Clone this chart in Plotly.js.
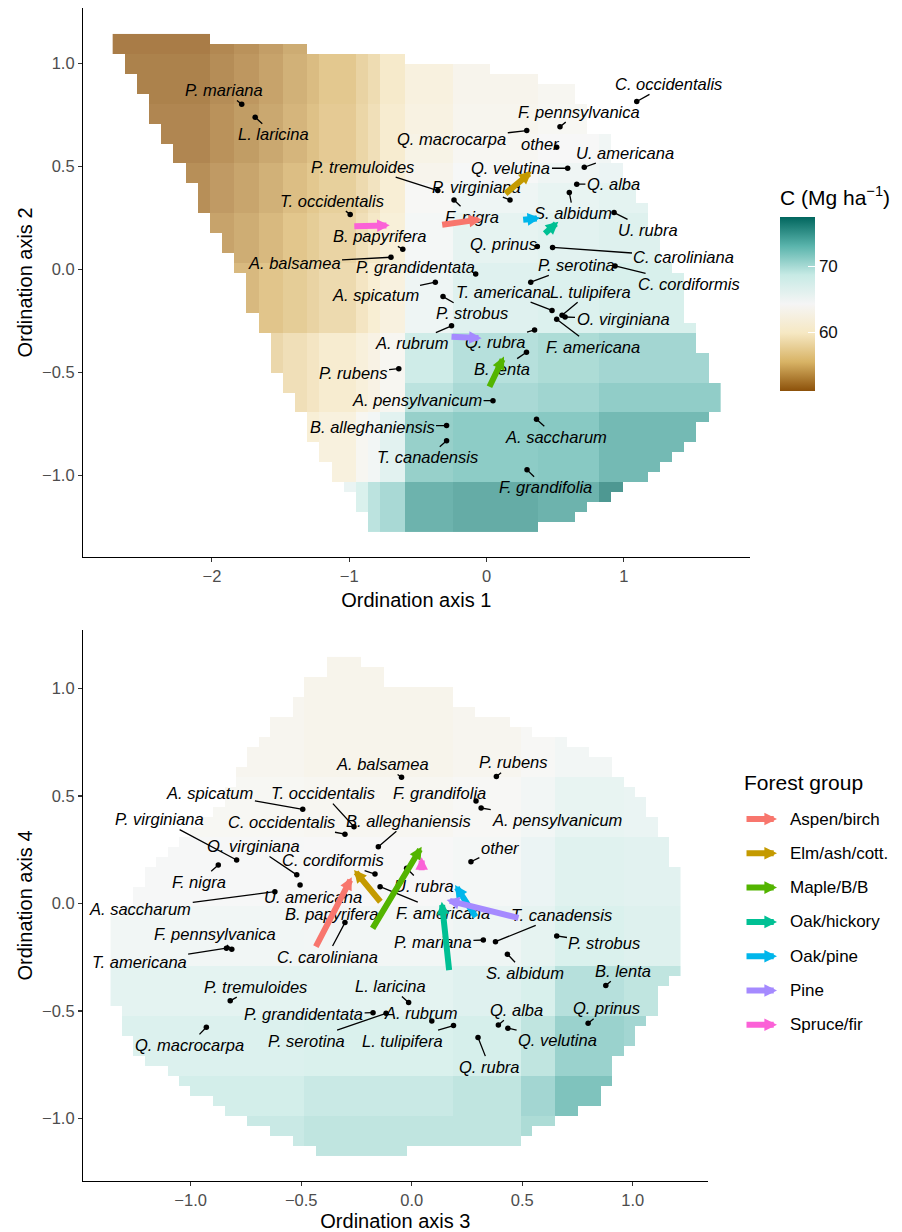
<!DOCTYPE html>
<html>
<head>
<meta charset="utf-8">
<script src="https://cdn.plot.ly/plotly-3.0.1.min.js"></script>
<style>
html,body{margin:0;padding:0;background:#ffffff;}
#chart{width:902px;height:1232px;}
</style>
</head>
<body>
<div id="chart"></div>
<script>
// ---------------- DATA ----------------
const species = ["A. balsamea","A. pensylvanicum","A. rubrum","A. saccharum","A. spicatum",
  "B. alleghaniensis","B. lenta","B. papyrifera","C. caroliniana","C. cordiformis",
  "C. occidentalis","F. americana","F. grandifolia","F. nigra","F. pennsylvanica",
  "L. laricina","L. tulipifera","O. virginiana","other","P. grandidentata",
  "P. mariana","P. rubens","P. serotina","P. strobus","P. tremuloides",
  "P. virginiana","Q. alba","Q. macrocarpa","Q. prinus","Q. rubra",
  "Q. velutina","S. albidum","T. americana","T. canadensis","T. occidentalis",
  "U. americana","U. rubra"];

// Ordination axes 1 & 2 (species scores) and label placements
const ax1 = [-0.696,0.047,-0.255,0.364,-0.373,-0.291,0.291,-0.610,0.481,0.936,
  1.094,0.511,0.295,-0.237,0.535,-1.685,0.550,0.572,0.511,-0.079,
  -1.783,-0.639,0.322,-0.317,-0.355,0.171,0.657,0.293,0.370,0.350,
  0.591,0.603,0.477,-0.291,-0.993,0.712,0.929];
const ax2 = [0.058,-0.638,-0.275,-0.728,-0.063,-0.759,-0.403,0.097,0.106,0.016,
  0.814,-0.243,-0.974,0.336,0.692,0.738,-0.224,-0.232,0.592,-0.023,
  0.801,-0.483,-0.063,-0.133,0.382,0.336,0.413,0.673,0.110,-0.295,
  0.490,0.372,-0.200,-0.833,0.266,0.495,0.275];
const lab12X = [-1.402,-0.506,-0.545,0.506,-0.812,-0.834,0.111,-0.776,1.438,1.473,
  1.322,0.776,0.426,-0.108,0.674,-1.551,0.754,0.994,0.390,-0.521,
  -1.915,-0.972,0.657,-0.108,-0.902,-0.071,0.924,-0.253,0.122,0.062,
  0.178,0.632,0.122,-0.428,-1.125,1.009,1.178];
const lab12Y = [0.032,-0.634,-0.359,-0.813,-0.125,-0.764,-0.485,0.162,0.061,-0.071,
  0.900,-0.376,-1.058,0.255,0.765,0.655,-0.109,-0.241,0.608,0.010,
  0.870,-0.505,0.021,-0.214,0.498,0.401,0.414,0.631,0.123,-0.351,
  0.490,0.272,-0.109,-0.913,0.333,0.566,0.191];

// Ordination axes 3 & 4
const ax3 = [-0.046,0.314,0.091,-0.619,-0.493,-0.151,0.878,-0.311,-0.302,-0.166,
  -0.302,-0.143,0.291,-0.875,-0.814,-0.014,0.189,-0.520,0.268,-0.175,
  0.324,0.383,-0.116,0.656,-0.821,-0.792,0.392,-0.929,0.798,0.300,
  0.435,0.433,-0.838,0.379,-0.261,-0.505,-0.023];
const ax4 = [0.587,0.444,-0.547,0.055,0.438,0.264,-0.382,0.035,-0.089,0.137,
  0.322,0.078,0.477,0.179,-0.213,-0.461,-0.568,0.133,0.194,-0.508,
  -0.170,0.590,-0.511,-0.151,-0.453,0.202,-0.565,-0.576,-0.557,-0.624,
  -0.580,-0.236,-0.208,-0.178,0.357,0.086,0.164];
const lab34X = [-0.130,0.656,0.041,-1.228,-0.913,-0.014,0.956,-0.362,-0.383,-0.355,
  -0.588,0.143,0.124,-0.961,-0.890,-0.097,-0.042,-0.714,0.401,-0.489,
  0.096,0.462,-0.476,0.872,-0.707,-1.139,0.475,-1.006,0.881,0.352,
  0.660,0.513,-1.233,0.678,-0.400,-0.445,0.056];
const lab34Y = [0.649,0.388,-0.511,-0.027,0.515,0.385,-0.313,-0.050,-0.247,0.202,
  0.380,-0.043,0.515,0.101,-0.144,-0.384,-0.638,0.267,0.260,-0.514,
  -0.178,0.657,-0.638,-0.185,-0.387,0.392,-0.495,-0.658,-0.487,-0.759,
  -0.635,-0.322,-0.271,-0.053,0.513,0.032,0.081];

// Forest-group vectors
const groups = ["Aspen/birch","Elm/ash/cott.","Maple/B/B","Oak/hickory","Oak/pine","Pine","Spruce/fir"];
const groupColors = ["#F8766D","#C49A00","#53B400","#00C094","#00B6EB","#A58AFF","#FB61D7"];
const g12StartX = [-0.334,0.127,0.016,0.414,0.256,-0.266,-0.974];
const g12StartY = [0.215,0.361,-0.578,0.167,0.239,-0.327,0.208];
const g12EndX   = [-0.035,0.329,0.127,0.523,0.390,-0.035,-0.705];
const g12EndY   = [0.243,0.474,-0.424,0.231,0.248,-0.335,0.213];
const g34StartX = [-0.437,-0.136,-0.181,0.170,0.294,0.490,0.045];
const g34StartY = [-0.208,0.001,-0.123,-0.317,-0.069,-0.069,0.148];
const g34EndX   = [-0.271,-0.261,0.045,0.136,0.196,0.158,0.045];
const g34EndY   = [0.122,0.156,0.264,0.008,0.086,0.016,0.215];

// Carbon surface (Mg/ha), axes 1-2: piecewise-constant table read from the tiles.
// columns grouped left->right, rows grouped top->bottom
const c12ColGroupWidths = [8,2,2,2,2,1,3,1,1,2,4,7,5,10];
const c12RowBandHeights = [2,5,3,3,2,3,5,7,5,3,7,5];
const c12BandValues = [
  [51.2,51.9,52.5,53.2,54.0,54.7,55.5,56.7,57.7,59.2,61.2,62.7,63.2,64.2],
  [51.5,52.2,52.8,53.5,54.3,55.0,55.8,57.0,58.0,59.5,61.5,63.0,63.5,64.5],
  [51.8,52.5,53.1,53.8,54.6,55.3,56.1,57.3,58.3,59.8,61.8,63.2,63.8,64.8],
  [51.8,52.5,53.1,53.8,54.6,55.3,56.1,57.3,58.3,59.8,62.3,63.7,64.4,65.2],
  [52.3,53.0,53.6,54.3,55.1,55.8,56.6,57.8,58.8,60.3,63.0,64.5,65.3,65.8],
  [52.3,53.0,53.6,54.3,55.1,55.8,56.6,57.8,58.8,60.3,64.0,65.5,66.3,66.8],
  [52.8,53.5,54.1,54.8,55.6,56.3,57.1,58.3,59.3,60.8,64.8,66.5,67.0,67.5],
  [53.5,54.2,54.8,55.5,56.3,57.0,57.8,59.0,60.0,61.5,65.5,67.3,67.8,68.3],
  [55.5,56.2,56.8,57.5,58.3,59.0,59.8,61.0,62.0,63.5,69.0,70.3,70.8,71.3],
  [55.5,56.2,56.8,57.5,58.3,59.0,59.8,61.0,62.0,63.5,70.0,71.0,71.5,72.3],
  [57.0,57.7,58.3,59.0,59.8,60.5,61.3,63.5,65.0,67.0,72.0,72.5,72.8,74.0],
  [61.0,61.7,62.3,63.0,63.8,64.5,66.0,68.0,70.0,71.0,74.5,75.0,74.5,76.5]
];
// first / last occupied tile in each of the 50 rows (top->bottom)
const c12RowFirst = [0,0,1,1,2,2,3,3,3,4, 4,5,5,6,6,7,7,7,8,8, 9,9,10,10,11,11,11,11,12,12,
  13,13,13,13,14,14,15,15,16,16, 16,17,17,18,18,19,20,20,21,21];
const c12RowLast = [7,15,23,30,34,37,37,38,38,38, 40,40,40,41,41,42,42,43,43,43, 44,44,44,45,46,46,46,46,46,47,
  47,47,48,48,48,49,49,49,48,47, 47,46,45,44,43,41,40,38,37,34];
const c12Grid = {x0:-2.6787, dx:0.08862, y0:-1.2508, dy:0.04834};

// Carbon surface, axes 3-4
const c34ColGroupWidths = [17,13,6,3,6,5];
const c34RowBandHeights = [12,6,7,6,5,6,4,4];
const c34BandValues = [
  [63.3,62.8,63.3,64.0,65.0,65.0],
  [63.8,63.5,64.0,65.0,66.2,66.0],
  [64.5,64.3,64.8,65.8,67.2,67.0],
  [65.2,65.0,65.5,66.5,68.0,67.5],
  [66.8,66.8,67.3,68.3,70.3,69.8],
  [67.8,68.0,68.6,69.8,71.8,71.3],
  [68.8,69.3,69.8,71.3,73.3,72.8],
  [69.3,69.8,69.8,70.8,72.8,72.3]
];
const c34RowFirst = [19,19,17,17,16,16,14,14,13,12, 12,11,11,10,10,9,8,7,6,5, 4,3,3,2,2,1,0,0,0,0,
  0,0,0,0,0,1,1,1,2,2, 3,5,6,7,9,10,12,14,16,18];
const c34RowLast = [21,23,23,29,29,31,34,36,39,41, 43,43,44,45,46,46,47,47,48,48, 48,49,49,49,49,49,49,49,49,49,
  49,49,48,47,47,47,46,45,45,44, 43,43,43,42,42,40,38,36,35,25];
const c34Grid = {x0:-1.3367, dx:0.05153, y0:-1.1512, dy:0.04642};

const cRange = [51.2, 77.4];
const cTicks = [60, 70];
const ticks12X = [-2,-1,0,1];
const ticks12XText = ["\u22122","\u22121","0","1"];
const ticksHalf = [-1,-0.5,0,0.5,1];
const ticksHalfText = ["\u22121.0","\u22120.5","0.0","0.5","1.0"];

// ---------------- BUILD ----------------
const FONT = '"Liberation Sans", Arial, Helvetica, sans-serif';
const W = 902, H = 1232;
const px = X => X / W;
const py = Y => 1 - Y / H;

function buildTable(widths, heights, values, first, last) {
  const rows = [];
  let r = 0;
  heights.forEach((h, b) => {
    for (let k = 0; k < h; k++, r++) {
      const row = [];
      widths.forEach((w, g) => { for (let q = 0; q < w; q++) row.push(values[b][g]); });
      rows.push(row.map((v, j) => (j >= first[r] && j <= last[r]) ? v : null));
    }
  });
  return rows.reverse(); // heatmap rows go bottom -> top
}

const BrBG = [[0,'#8C510A'],[1/6,'#D8B365'],[2/6,'#F6E8C3'],[0.5,'#F5F5F5'],
              [4/6,'#C7EAE5'],[5/6,'#5AB4AC'],[1,'#01665E']];

const traces = [
  Object.assign({
    type:'heatmap', z: buildTable(c12ColGroupWidths, c12RowBandHeights, c12BandValues, c12RowFirst, c12RowLast),
    xaxis:'x', yaxis:'y', colorscale: BrBG, zmin: cRange[0], zmax: cRange[1], opacity: 0.75,
    hoverinfo:'skip', showscale: true,
    colorbar: {
      x: px(780), xanchor:'left', xref:'paper', xpad:0,
      y: py(391), yanchor:'bottom', ypad:0,
      len: 205, lenmode:'pixels', thickness: 35, thicknessmode:'pixels',
      outlinewidth: 0, tickmode:'array', tickvals: cTicks,
      ticks:'inside', ticklen: 7, tickcolor:'#ffffff', tickwidth: 1,
      tickfont: {family: FONT, size: 17, color:'#111'},
      title: {text:'C (Mg ha<sup>\u22121</sup>)', side:'top', font:{family: FONT, size: 21, color:'#000'}}
    }
  }, c12Grid),
  Object.assign({
    type:'heatmap', z: buildTable(c34ColGroupWidths, c34RowBandHeights, c34BandValues, c34RowFirst, c34RowLast),
    xaxis:'x2', yaxis:'y2', colorscale: BrBG, zmin: cRange[0], zmax: cRange[1], opacity: 0.75,
    hoverinfo:'skip', showscale: false
  }, c34Grid),
  {type:'scatter', mode:'markers', x: ax1, y: ax2, xaxis:'x', yaxis:'y',
   marker:{color:'#000', size:5.5}, hoverinfo:'skip', showlegend:false},
  {type:'scatter', mode:'markers', x: ax3, y: ax4, xaxis:'x2', yaxis:'y2',
   marker:{color:'#000', size:5.5}, hoverinfo:'skip', showlegend:false}
];

function labelAnns(xs, ys, lx, ly, xr, yr) {
  return species.map((s, i) => ({
    x: xs[i], y: ys[i], ax: lx[i], ay: ly[i], xref: xr, yref: yr, axref: xr, ayref: yr,
    text: '<i>' + s + '</i>', showarrow: true, arrowhead: 0, arrowwidth: 1.3, arrowcolor:'#000',
    standoff: 0, startstandoff: 0,
    font: {family: FONT, size: 16.5, color:'#000'}
  }));
}
function groupAnns(sx, sy, ex, ey, xr, yr) {
  return groups.map((g, i) => ({
    x: ex[i], y: ey[i], ax: sx[i], ay: sy[i], xref: xr, yref: yr, axref: xr, ayref: yr,
    text: '', showarrow: true, arrowhead: 2, arrowsize: 0.42, arrowwidth: 6,
    arrowcolor: groupColors[i], standoff: 0
  }));
}
const legendAnns = [{
  x: px(742), y: py(782), xref:'paper', yref:'paper', xanchor:'left', yanchor:'middle',
  text:'Forest group', showarrow:false, font:{family: FONT, size: 21, color:'#000'}
}];
groups.forEach((g, i) => {
  const Y = 819 + 34.3 * i;
  legendAnns.push({x: px(777), y: py(Y), xref:'paper', yref:'paper', ax: -32, ay: 0,
    text:'', showarrow:true, arrowhead:2, arrowsize:0.42, arrowwidth:6, arrowcolor: groupColors[i], standoff:0});
  legendAnns.push({x: px(788), y: py(Y), xref:'paper', yref:'paper', xanchor:'left', yanchor:'middle',
    text: g, showarrow:false, font:{family: FONT, size: 17, color:'#000'}});
});

function axis(extra) {
  return Object.assign({
    showline:true, linecolor:'#000', linewidth:1.1, mirror:false,
    ticks:'outside', ticklen:4, tickwidth:1.1, tickcolor:'#333',
    showgrid:false, zeroline:false, fixedrange:true, tickmode:'array',
    tickfont:{family: FONT, size:16.5, color:'#4D4D4D'}
  }, extra);
}

const layout = {
  width: W, height: H, margin:{l:0, r:0, t:0, b:0},
  paper_bgcolor:'#ffffff', plot_bgcolor:'rgba(0,0,0,0)',
  font:{family: FONT, color:'#000'},
  showlegend:false,
  xaxis: axis({domain:[px(83), px(749.6)], range:[-2.939, 1.916], anchor:'y',
    tickvals: ticks12X, ticktext: ticks12XText,
    title:{text:'Ordination axis 1', font:{family: FONT, size:20, color:'#000'}, standoff: 9}}),
  yaxis: axis({domain:[py(557), py(8)], range:[-1.397, 1.268], anchor:'x',
    tickvals: ticksHalf, ticktext: ticksHalfText,
    title:{text:'Ordination axis 2', font:{family: FONT, size:20, color:'#000'}, standoff: 4}}),
  xaxis2: axis({domain:[px(83), px(707.7)], range:[-1.487, 1.339], anchor:'y2',
    tickvals: ticksHalf, ticktext: ticksHalfText,
    title:{text:'Ordination axis 3', font:{family: FONT, size:20, color:'#000'}, standoff: 9}}),
  yaxis2: axis({domain:[py(1181), py(630)], range:[-1.291, 1.272], anchor:'x2',
    tickvals: ticksHalf, ticktext: ticksHalfText,
    title:{text:'Ordination axis 4', font:{family: FONT, size:20, color:'#000'}, standoff: 4}}),
  annotations: [].concat(
    labelAnns(ax1, ax2, lab12X, lab12Y, 'x', 'y'),
    labelAnns(ax3, ax4, lab34X, lab34Y, 'x2', 'y2'),
    groupAnns(g12StartX, g12StartY, g12EndX, g12EndY, 'x', 'y'),
    groupAnns(g34StartX, g34StartY, g34EndX, g34EndY, 'x2', 'y2'),
    legendAnns)
};

Plotly.newPlot('chart', traces, layout, {displayModeBar:false, staticPlot:true});
</script>
</body>
</html>
